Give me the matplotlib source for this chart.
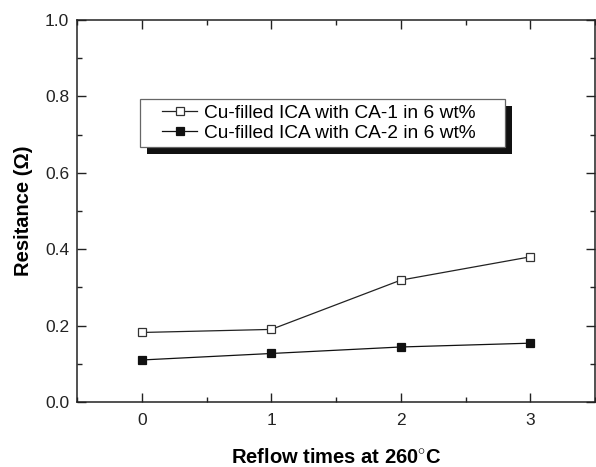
import matplotlib
matplotlib.use("Agg")
import matplotlib.pyplot as plt
from matplotlib.patches import Rectangle
from matplotlib.ticker import MultipleLocator, FormatStrFormatter

# reflow data
reflow = [0, 1, 2, 3]
res_ca1 = [0.182, 0.190, 0.319, 0.380]
res_ca2 = [0.110, 0.127, 0.144, 0.154]
labels = ["Cu-filled ICA with CA-1 in 6 wt%", "Cu-filled ICA with CA-2 in 6 wt%"]

plt.rcParams['font.family'] = ['Liberation Sans', 'DejaVu Sans']
plt.rcParams['mathtext.fontset'] = 'custom'
plt.rcParams['mathtext.rm'] = 'Liberation Sans'
plt.rcParams['mathtext.bf'] = 'Liberation Sans:bold'

fig = plt.figure(figsize=(5.96, 4.67), dpi=100)
ax = fig.add_axes([77 / 596, 65 / 467, 518 / 596, 382 / 467])

ax.plot(reflow, res_ca1, color='#222222', lw=0.9, marker='s', ms=6,
        mfc='white', mec='#333333', mew=0.9, label=labels[0])
ax.plot(reflow, res_ca2, color='#111111', lw=0.9, marker='s', ms=6,
        mfc='#111111', mec='#111111', mew=0.9, label=labels[1])

ax.set_xlim(-0.5, 3.5)
ax.set_ylim(0.0, 1.0)
ax.xaxis.set_major_locator(MultipleLocator(1))
ax.xaxis.set_minor_locator(MultipleLocator(0.5))
ax.yaxis.set_major_locator(MultipleLocator(0.2))
ax.yaxis.set_minor_locator(MultipleLocator(0.1))
ax.yaxis.set_major_formatter(FormatStrFormatter('%.1f'))
ax.tick_params(which='both', direction='in', top=True, right=True,
               width=1.0, labelsize=12.5, colors='#222222')
ax.tick_params(which='major', length=6.5)
ax.tick_params(which='minor', length=3.5)
ax.tick_params(axis='x', which='major', pad=8)
ax.tick_params(axis='y', which='major', pad=5.5)
for s in ax.spines.values():
    s.set_linewidth(1.1)
    s.set_color('#222222')

ax.set_xlabel(r'Reflow times at 260$^{\circ}$C', fontsize=14.5, fontweight='bold', labelpad=14.5)
ax.set_ylabel('Resitance (Ω)', fontsize=14.5, fontweight='bold', labelpad=9)

# legend text without frame; frame and black shadow drawn by hand
leg = ax.legend(loc='center left', bbox_to_anchor=(162 / 596, 1 - 123 / 467),
                bbox_transform=fig.transFigure, borderaxespad=0, borderpad=0,
                fontsize=13.8, frameon=False, handlelength=1.85,
                handletextpad=0.35, labelspacing=0.15)
leg.set_zorder(6)

fig.canvas.draw()
bb = leg.get_window_extent()
x0, x1 = bb.x0 - 22, bb.x1 + 29
y0, y1 = 467 - 147, 467 - 99
off = 7
shadow = Rectangle((x0 + off, y0 - off), x1 - x0, y1 - y0, transform=None,
                   facecolor='#111111', edgecolor='none', zorder=4.8)
frame = Rectangle((x0, y0), x1 - x0, y1 - y0, transform=None,
                  facecolor='white', edgecolor='#666666', lw=0.9, zorder=4.9)
ax.add_artist(shadow)
ax.add_artist(frame)

fig.savefig('out.png', dpi=100)
